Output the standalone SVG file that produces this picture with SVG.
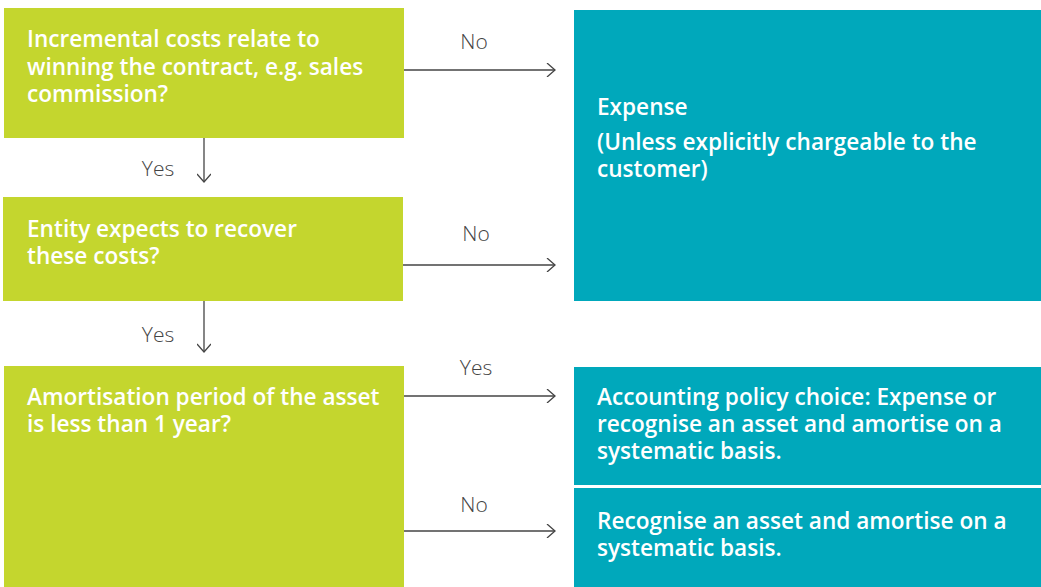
<svg xmlns="http://www.w3.org/2000/svg" width="1041" height="587" viewBox="0 0 1041 587">
<defs>
<style>
.green{fill:#C4D62E}
.teal{fill:#00A8BB}
.t{font-family:"Open Sans","Noto Sans","Liberation Sans",sans-serif;font-size:22.6px;font-weight:600;fill:#fff}
.lbl{font-family:"Open Sans","Noto Sans","Liberation Sans",sans-serif;font-size:21px;font-weight:300;fill:#444;text-anchor:middle}
.ln{stroke:#444;stroke-width:1.3;fill:none}
</style>
<marker id="ah" markerWidth="12" markerHeight="14" refX="10" refY="7" orient="auto" markerUnits="userSpaceOnUse">
<path d="M2,0 L10,7 L2,14" fill="none" stroke="#444" stroke-width="1.3"/>
</marker>
</defs>
<rect width="1041" height="587" fill="#fff"/>
<g id="q1">
<rect class="green" x="4" y="8" width="400" height="130"/>
<text class="t" x="27" y="47">Incremental costs relate to</text>
<text class="t" x="27" y="75">winning the contract, e.g. sales</text>
<text class="t" x="27" y="102">commission?</text>
</g>
<g id="q2">
<rect class="green" x="3" y="197" width="400" height="104"/>
<text class="t" x="27" y="237">Entity expects to recover</text>
<text class="t" x="27" y="264">these costs?</text>
</g>
<g id="q3">
<rect class="green" x="4" y="366" width="400" height="221"/>
<text class="t" x="27" y="405">Amortisation period of the asset</text>
<text class="t" x="27" y="432">is less than 1 year?</text>
</g>
<g id="expense">
<rect class="teal" x="574" y="10" width="467" height="291"/>
<text class="t" x="597" y="115">Expense</text>
<text class="t" x="597" y="150">(Unless explicitly chargeable to the</text>
<text class="t" x="597" y="177">customer)</text>
</g>
<g id="policy">
<rect class="teal" x="574" y="367" width="467" height="118"/>
<text class="t" x="597" y="405">Accounting policy choice: Expense or</text>
<text class="t" x="597" y="432">recognise an asset and amortise on a</text>
<text class="t" x="597" y="459">systematic basis.</text>
</g>
<g id="recognise">
<rect class="teal" x="574" y="488" width="467" height="99"/>
<text class="t" x="597" y="529">Recognise an asset and amortise on a</text>
<text class="t" x="597" y="556">systematic basis.</text>
</g>
<g id="connectors">
<line class="ln" x1="404" y1="70" x2="555" y2="70" marker-end="url(#ah)"/>
<text class="lbl" x="474" y="49">No</text>
<line class="ln" x1="403" y1="265" x2="555" y2="265" marker-end="url(#ah)"/>
<text class="lbl" x="476" y="241">No</text>
<line class="ln" x1="404" y1="396" x2="555" y2="396" marker-end="url(#ah)"/>
<text class="lbl" x="476" y="375">Yes</text>
<line class="ln" x1="404" y1="531" x2="555" y2="531" marker-end="url(#ah)"/>
<text class="lbl" x="474" y="512">No</text>
<line class="ln" x1="204" y1="138" x2="204" y2="182" marker-end="url(#ah)"/>
<text class="lbl" x="158" y="176">Yes</text>
<line class="ln" x1="204" y1="301" x2="204" y2="352" marker-end="url(#ah)"/>
<text class="lbl" x="158" y="342">Yes</text>
</g>
</svg>
